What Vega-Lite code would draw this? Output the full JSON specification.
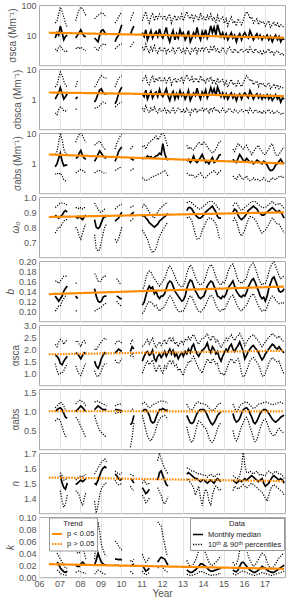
{"$schema":"https://vega.github.io/schema/vega-lite/v6.json","padding":{"left":4,"top":0,"right":0,"bottom":0},"spacing":3,"bounds":"flush",
"datasets":{"tr":[
{"p":"a","t":2006.48,"v":12,"sig":"p < 0.05"},{"p":"a","t":2017.95,"v":8.2,"sig":"p < 0.05"},
{"p":"b","t":2006.48,"v":1.66,"sig":"p < 0.05"},{"p":"b","t":2017.95,"v":1.26,"sig":"p < 0.05"},
{"p":"c","t":2006.48,"v":2.0,"sig":"p < 0.05"},{"p":"c","t":2017.95,"v":1.02,"sig":"p < 0.05"},
{"p":"d","t":2006.48,"v":0.867,"sig":"p < 0.05"},{"p":"d","t":2017.95,"v":0.898,"sig":"p < 0.05"},
{"p":"e","t":2006.48,"v":0.134,"sig":"p < 0.05"},{"p":"e","t":2017.95,"v":0.149,"sig":"p < 0.05"},
{"p":"f","t":2006.48,"v":1.786,"sig":"p > 0.05"},{"p":"f","t":2017.95,"v":1.93,"sig":"p > 0.05"},
{"p":"g","t":2006.48,"v":1.01,"sig":"p > 0.05"},{"p":"g","t":2017.95,"v":1.005,"sig":"p > 0.05"},
{"p":"h","t":2006.48,"v":1.537,"sig":"p > 0.05"},{"p":"h","t":2017.95,"v":1.513,"sig":"p > 0.05"},
{"p":"i","t":2006.48,"v":0.0217,"sig":"p < 0.05"},{"p":"i","t":2017.95,"v":0.0139,"sig":"p < 0.05"}],
"m":[
{"t":2006.79,"s":1,"a":8,"a1":3.5,"a9":25,"b":1.0,"b1":0.35,"b9":2.5,"c":0.8,"c1":0.45,"c9":2,"d":0.88,"d1":0.76,"d9":0.93,"e":0.13,"e1":0.1,"e9":0.16,"f":1.75,"f1":1.4,"f9":2.2,"g":1.0,"g1":0.75,"g9":1.1},
{"t":2006.88,"s":1,"a":12,"a1":3,"a9":30,"b":1.3,"b1":0.3,"b9":3,"c":1.0,"c1":0.5,"c9":2.5,"d":0.87,"d1":0.78,"d9":0.94,"e":0.125,"e1":0.105,"e9":0.16,"f":1.7,"f1":1.1,"f9":2.1,"g":1.05,"g1":0.8,"g9":1.15,"i":0.025,"i1":0.012,"i9":0.04},
{"t":2006.96,"s":1,"a":10,"a1":4,"a9":50,"b":1.6,"b1":0.45,"b9":5,"c":1.5,"c1":0.45,"c9":5,"d":0.86,"d1":0.8,"d9":0.95,"e":0.12,"e1":0.11,"e9":0.155,"f":1.6,"f1":0.95,"f9":2.3,"g":1.08,"g1":0.82,"g9":1.2,"i":0.022,"i1":0.01,"i9":0.035},
{"t":2007.04,"s":1,"a":20,"a1":4.5,"a9":85,"b":2.4,"b1":0.55,"b9":8,"c":2.2,"c1":0.5,"c9":10,"d":0.87,"d1":0.8,"d9":0.96,"e":0.125,"e1":0.11,"e9":0.16,"f":1.4,"f1":1.0,"f9":2.4,"g":1.1,"g1":0.75,"g9":1.25,"h":1.55,"h1":1.45,"h9":1.57,"i":0.015,"i1":0.006,"i9":0.03},
{"t":2007.13,"s":1,"a":12,"a1":3.5,"a9":60,"b":1.5,"b1":0.5,"b9":6,"c":1.2,"c1":0.4,"c9":6,"d":0.88,"d1":0.82,"d9":0.96,"e":0.13,"e1":0.12,"e9":0.165,"f":1.35,"f1":1.0,"f9":2.35,"g":1.05,"g1":0.6,"g9":1.22,"h":1.5,"h1":1.38,"h9":1.55,"i":0.012,"i1":0.005,"i9":0.025},
{"t":2007.21,"s":1,"a":7,"a1":3,"a9":40,"b":1.0,"b1":0.4,"b9":4,"c":0.85,"c1":0.3,"c9":3,"d":0.9,"d1":0.84,"d9":0.96,"e":0.14,"e1":0.125,"e9":0.17,"f":1.5,"f1":1.1,"f9":2.2,"g":0.95,"g1":0.45,"g9":1.15,"h":1.47,"h1":1.34,"h9":1.52,"i":0.009,"i1":0.004,"i9":0.02},
{"t":2007.29,"s":1,"a":9,"a1":2.8,"a9":25,"b":1.2,"b1":0.4,"b9":3,"c":0.9,"c1":0.28,"c9":2.2,"d":0.91,"d1":0.85,"d9":0.95,"e":0.145,"e1":0.13,"e9":0.17,"f":1.6,"f1":1.25,"f9":2.3,"g":0.85,"g1":0.35,"g9":1.05,"h":1.46,"h1":1.36,"h9":1.52,"i":0.008,"i1":0.003,"i9":0.015},
{"t":2007.38,"s":1,"a":10,"a1":3,"a9":18,"b":1.5,"b1":0.45,"b9":2.5,"c":0.9,"c1":0.3,"c9":2,"d":0.9,"d1":0.85,"d9":0.95,"e":0.15,"e1":0.13,"e9":0.17,"f":1.7,"f1":1.4,"f9":2.4,"g":0.82,"g1":0.3,"g9":1.0,"h":1.5,"h1":1.42,"h9":1.54,"i":0.01,"i1":0.004,"i9":0.015},
{"t":2007.79,"s":2,"a":8,"a1":3.5,"a9":30,"b":1.0,"b1":0.45,"b9":2.5,"c":1.5,"c1":0.5,"c9":5,"d":0.87,"d1":0.8,"d9":0.93,"e":0.13,"e1":0.1,"e9":0.155,"f":1.85,"f1":1.3,"f9":2.3,"g":1.0,"g1":0.85,"g9":1.2,"h":1.49,"h1":1.45,"h9":1.52,"i":0.02,"i1":0.008,"i9":0.045},
{"t":2007.88,"s":2,"a":10,"a1":4,"a9":50,"b":1.2,"b1":0.5,"b9":4,"c":1.6,"c1":0.55,"c9":7,"d":0.86,"d1":0.78,"d9":0.93,"e":0.125,"e1":0.102,"e9":0.158,"f":1.8,"f1":1.1,"f9":2.35,"g":1.05,"g1":0.8,"g9":1.25,"h":1.5,"h1":1.44,"h9":1.53,"i":0.018,"i1":0.01,"i9":0.04},
{"t":2007.96,"s":2,"a":12,"a1":3.5,"a9":70,"c":2.2,"c1":0.6,"c9":9,"d":0.87,"d1":0.74,"d9":0.92,"f":1.7,"f1":0.95,"f9":2.2,"g":1.1,"g1":0.7,"g9":1.3,"h":1.51,"h1":1.42,"h9":1.54,"i":0.018,"i1":0.01,"i9":0.04},
{"t":2008.04,"s":2,"a":15,"a1":4,"a9":85,"c":2.7,"c1":0.65,"c9":10,"d":0.86,"d1":0.72,"d9":0.93,"f":1.6,"f1":0.9,"f9":2.1,"g":1.15,"g1":0.6,"g9":1.3,"h":1.52,"h1":1.38,"h9":1.55,"i":0.022,"i1":0.009,"i9":0.045},
{"t":2008.13,"s":2,"a":11,"a1":3.5,"a9":75,"c":1.8,"c1":0.6,"c9":8,"d":0.85,"d1":0.76,"d9":0.92,"f":1.75,"f1":1.1,"f9":2.3,"g":1.1,"g1":0.5,"g9":1.25,"h":1.51,"h1":1.35,"h9":1.54,"i":0.025,"i1":0.008,"i9":0.05},
{"t":2008.21,"s":2,"a":9,"a1":3.2,"a9":55,"c":1.5,"c1":0.55,"c9":6,"d":0.87,"d1":0.8,"d9":0.93,"f":1.85,"f1":1.3,"f9":2.35,"g":1.05,"g1":0.4,"g9":1.22,"h":1.52,"h1":1.4,"h9":1.55,"i":0.022,"i1":0.007,"i9":0.04},
{"t":2008.29,"s":2,"a":9,"a1":3,"a9":45,"c":1.4,"c1":0.5,"c9":5,"d":0.88,"d1":0.82,"d9":0.93,"f":1.8,"f1":1.4,"f9":2.2,"g":1.0,"g1":0.3,"g9":1.15,"h":1.53,"h1":1.44,"h9":1.56,"i":0.02,"i1":0.006,"i9":0.03},
{"t":2008.71,"s":3,"a":8,"a1":4,"a9":35,"b":0.8,"b1":0.5,"b9":2.5,"c":1.2,"c1":0.5,"c9":4,"d":0.85,"d1":0.75,"d9":0.96,"e":0.145,"e1":0.1,"e9":0.175,"f":1.5,"f1":1.1,"f9":2.0,"g":1.05,"g1":0.9,"g9":1.25,"h":1.5,"h1":1.38,"h9":1.56,"i":0.02,"i1":0.005,"i9":0.03},
{"t":2008.79,"s":3,"a":7,"a1":3.5,"a9":40,"b":1.0,"b1":0.5,"b9":3,"c":1.5,"c1":0.55,"c9":4.5,"d":0.8,"d1":0.66,"d9":0.94,"e":0.13,"e1":0.102,"e9":0.17,"f":1.3,"f1":0.9,"f9":1.95,"g":1.1,"g1":0.75,"g9":1.28,"h":1.49,"h1":1.3,"h9":1.58,"i":0.028,"i1":0.008,"i9":0.06},
{"t":2008.88,"s":3,"a":6,"a1":3,"a9":45,"b":1.5,"b1":0.55,"b9":4,"c":2.0,"c1":0.6,"c9":5,"d":0.79,"d1":0.64,"d9":0.92,"e":0.12,"e1":0.105,"e9":0.16,"f":1.2,"f1":0.85,"f9":2.1,"g":1.15,"g1":0.6,"g9":1.28,"h":1.52,"h1":1.35,"h9":1.6,"i":0.04,"i1":0.012,"i9":0.092},
{"t":2008.96,"s":3,"a":10,"a1":4,"a9":50,"b":2.0,"b1":0.6,"b9":5,"c":2.6,"c1":0.6,"c9":5.5,"d":0.8,"d1":0.65,"d9":0.9,"e":0.118,"e1":0.106,"e9":0.158,"f":1.35,"f1":0.95,"f9":2.2,"g":1.12,"g1":0.5,"g9":1.25,"h":1.55,"h1":1.42,"h9":1.62,"i":0.032,"i1":0.01,"i9":0.075},
{"t":2009.04,"s":3,"a":14,"a1":4.5,"a9":55,"b":2.2,"b1":0.7,"b9":6,"c":2.2,"c1":0.55,"c9":4.5,"d":0.83,"d1":0.7,"d9":0.9,"e":0.12,"e1":0.108,"e9":0.162,"f":1.6,"f1":1.1,"f9":2.3,"g":1.08,"g1":0.45,"g9":1.22,"h":1.58,"h1":1.46,"h9":1.64,"i":0.025,"i1":0.008,"i9":0.055},
{"t":2009.13,"s":3,"a":15,"a1":5,"a9":52,"b":1.6,"b1":0.8,"b9":5.5,"c":1.8,"c1":0.5,"c9":3.5,"d":0.86,"d1":0.76,"d9":0.91,"e":0.128,"e1":0.112,"e9":0.168,"f":1.75,"f1":1.3,"f9":2.4,"g":1.05,"g1":0.4,"g9":1.2,"h":1.6,"h1":1.48,"h9":1.65,"i":0.022,"i1":0.006,"i9":0.045},
{"t":2009.21,"s":3,"a":12,"a1":5,"a9":45,"b":1.5,"b1":0.75,"b9":5,"c":1.6,"c1":0.5,"c9":3,"d":0.87,"d1":0.8,"d9":0.92,"e":0.13,"e1":0.115,"e9":0.17,"f":1.85,"f1":1.4,"f9":2.45,"g":1.05,"g1":0.35,"g9":1.18,"h":1.61,"h1":1.5,"h9":1.66,"i":0.02,"i1":0.005,"i9":0.038},
{"t":2009.29,"s":3,"a":10,"a1":4.5,"a9":40,"b":1.5,"b1":0.7,"b9":5,"c":1.5,"c1":0.5,"c9":3,"d":0.87,"d1":0.82,"d9":0.92,"e":0.13,"e1":0.115,"e9":0.168,"f":1.8,"f1":1.4,"f9":2.4,"g":1.05,"g1":0.35,"g9":1.15,"h":1.6,"h1":1.5,"h9":1.64,"i":0.02,"i1":0.005,"i9":0.035},
{"t":2009.71,"s":4,"a":6,"a1":3.5,"a9":25,"b":0.7,"b1":0.55,"b9":2.5,"c":1.2,"c1":0.6,"c9":3,"d":0.84,"d1":0.72,"d9":0.92,"f":1.85,"f1":1.55,"f9":2.2,"g":1.05,"g1":0.95,"g9":1.15,"h":1.56,"h1":1.52,"h9":1.58,"i":0.03,"i1":0.02,"i9":0.06},
{"t":2009.79,"s":4,"a":8,"a1":4,"a9":30,"b":0.9,"b1":0.6,"b9":3.5,"c":1.6,"c1":0.65,"c9":4.5,"d":0.85,"d1":0.7,"d9":0.93,"e":0.13,"e1":0.12,"e9":0.165,"f":1.9,"f1":1.45,"f9":2.3,"g":1.05,"g1":0.97,"g9":1.18,"h":1.55,"h1":1.5,"h9":1.57,"i":0.03,"i1":0.021,"i9":0.057},
{"t":2009.88,"s":4,"a":10,"a1":4.5,"a9":40,"b":1.5,"b1":0.7,"b9":5,"c":2.5,"c1":0.7,"c9":6,"d":0.86,"d1":0.72,"d9":0.94,"e":0.128,"e1":0.115,"e9":0.16,"f":2.0,"f1":1.4,"f9":2.35,"g":1.04,"g1":0.98,"g9":1.2,"h":1.53,"h1":1.49,"h9":1.56,"i":0.029,"i1":0.02,"i9":0.052},
{"t":2009.96,"s":4,"a":15,"a1":5,"a9":50,"b":2.0,"b1":0.75,"b9":5.5,"c":3.0,"c1":0.75,"c9":8,"d":0.88,"d1":0.76,"d9":0.95,"e":0.125,"e1":0.112,"e9":0.155,"f":1.95,"f1":1.5,"f9":2.3,"g":1.03,"g1":0.98,"g9":1.2,"h":1.52,"h1":1.49,"h9":1.56,"i":0.03,"i1":0.019,"i9":0.048},
{"t":2010.04,"s":4,"a":22,"a1":5,"a9":55,"b":2.5,"b1":0.8,"b9":6,"c":3.5,"c1":0.8,"c9":9,"d":0.9,"d1":0.8,"d9":0.95,"e":0.125,"e1":0.11,"e9":0.155,"f":1.9,"f1":1.6,"f9":2.25,"g":1.02,"g1":0.97,"g9":1.18,"h":1.53,"h1":1.5,"h9":1.57,"i":0.028,"i1":0.018,"i9":0.045},
{"t":2010.46,"s":5,"a":10,"a1":4,"a9":30,"c":1.5,"c1":0.6,"c9":3,"d":0.88,"d1":0.84,"d9":0.93,"f":1.9,"f1":1.7,"f9":2.2,"g":0.65,"g1":0.05,"g9":1.0,"h":1.53,"h1":1.48,"h9":1.56,"i":0.018,"i1":0.01,"i9":0.028},
{"t":2010.54,"s":5,"a":15,"a1":5,"a9":45,"c":1.4,"c1":0.65,"c9":3.5,"d":0.89,"d1":0.85,"d9":0.94,"f":2.1,"f1":1.8,"f9":2.4,"g":0.7,"g1":0.3,"g9":1.05,"h":1.52,"h1":1.46,"h9":1.55,"i":0.02,"i1":0.007,"i9":0.025},
{"t":2010.63,"s":5,"a":20,"a1":6,"a9":60,"c":1.3,"c1":0.7,"c9":4,"d":0.9,"d1":0.86,"d9":0.94,"f":2.0,"f1":1.6,"f9":2.3,"g":0.9,"g1":0.7,"g9":1.1,"h":1.5,"h1":1.45,"h9":1.55,"i":0.022,"i1":0.005,"i9":0.03},
{"t":2011.04,"s":6,"a":12,"a1":4,"a9":30,"b":1.5,"b1":0.5,"b9":4,"c":1.4,"c1":0.35,"c9":3.5,"d":0.87,"d1":0.78,"d9":0.93,"e":0.112,"e1":0.095,"e9":0.14,"f":1.5,"f1":1.0,"f9":2.1,"g":1.0,"g1":0.9,"g9":1.2,"h":1.47,"h1":1.42,"h9":1.5,"i":0.02,"i1":0.01,"i9":0.038},
{"t":2011.13,"s":6,"a":9,"a1":3,"a9":45,"b":1.2,"b1":0.4,"b9":5,"c":1.6,"c1":0.3,"c9":4,"d":0.88,"d1":0.76,"d9":0.95,"e":0.118,"e1":0.1,"e9":0.15,"f":1.7,"f1":1.2,"f9":2.2,"g":1.05,"g1":0.7,"g9":1.25,"h":1.45,"h1":1.4,"h9":1.52,"i":0.015,"i1":0.006,"i9":0.03},
{"t":2011.21,"s":6,"a":15,"a1":5,"a9":60,"b":2.0,"b1":0.6,"b9":6,"c":1.5,"c1":0.28,"c9":3,"d":0.86,"d1":0.74,"d9":0.94,"e":0.13,"e1":0.108,"e9":0.165,"f":1.85,"f1":1.4,"f9":2.3,"g":1.05,"g1":0.5,"g9":1.22,"h":1.43,"h1":1.37,"h9":1.5,"i":0.01,"i1":0.004,"i9":0.025},
{"t":2011.29,"s":6,"a":7,"a1":3.5,"a9":35,"b":1.0,"b1":0.45,"b9":3.5,"c":1.8,"c1":0.3,"c9":4,"d":0.85,"d1":0.72,"d9":0.92,"e":0.142,"e1":0.115,"e9":0.175,"f":1.9,"f1":1.5,"f9":2.4,"g":1.0,"g1":0.35,"g9":1.15,"h":1.44,"h1":1.38,"h9":1.49,"i":0.012,"i1":0.005,"i9":0.028},
{"t":2011.38,"s":6,"a":10,"a1":2.5,"a9":25,"b":1.4,"b1":0.35,"b9":3,"c":1.6,"c1":0.32,"c9":5,"d":0.83,"d1":0.68,"d9":0.9,"e":0.15,"e1":0.12,"e9":0.18,"f":1.75,"f1":1.35,"f9":2.2,"g":0.9,"g1":0.25,"g9":1.1,"h":1.46,"h1":1.4,"h9":1.5,"i":0.015,"i1":0.008,"i9":0.032},
{"t":2011.46,"s":6,"a":14,"a1":4,"a9":40,"b":1.8,"b1":0.5,"b9":4.5,"c":1.7,"c1":0.35,"c9":5.5,"d":0.82,"d1":0.65,"d9":0.88,"e":0.145,"e1":0.118,"e9":0.178,"f":1.8,"f1":1.45,"f9":2.35,"g":0.75,"g1":0.22,"g9":1.12},
{"t":2011.54,"s":6,"a":8,"a1":3,"a9":55,"b":1.1,"b1":0.4,"b9":6,"c":1.5,"c1":0.38,"c9":6,"d":0.81,"d1":0.63,"d9":0.87,"e":0.148,"e1":0.115,"e9":0.17,"f":1.95,"f1":1.55,"f9":2.45,"g":0.7,"g1":0.3,"g9":1.18},
{"t":2011.63,"s":6,"a":11,"a1":4.5,"a9":30,"b":1.5,"b1":0.55,"b9":3.5,"c":1.6,"c1":0.4,"c9":7,"d":0.8,"d1":0.64,"d9":0.86,"e":0.135,"e1":0.11,"e9":0.165,"f":1.6,"f1":1.25,"f9":2.2,"g":0.72,"g1":0.4,"g9":1.2},
{"t":2011.71,"s":6,"a":13,"a1":3,"a9":45,"b":1.7,"b1":0.4,"b9":5,"c":1.8,"c1":0.42,"c9":8,"d":0.81,"d1":0.66,"d9":0.88,"e":0.14,"e1":0.112,"e9":0.16,"f":1.5,"f1":1.05,"f9":2.05,"g":0.85,"g1":0.55,"g9":1.22},
{"t":2011.79,"s":6,"a":9,"a1":2.5,"a9":35,"b":1.2,"b1":0.35,"b9":4,"c":1.9,"c1":0.45,"c9":6,"d":0.82,"d1":0.7,"d9":0.9,"e":0.13,"e1":0.105,"e9":0.155,"f":1.7,"f1":1.2,"f9":2.2,"g":0.95,"g1":0.7,"g9":1.25,"h":1.52,"h1":1.47,"h9":1.65,"i":0.025,"i1":0.015,"i9":0.092},
{"t":2011.88,"s":6,"a":16,"a1":4,"a9":50,"b":2.1,"b1":0.5,"b9":5.5,"c":2.2,"c1":0.48,"c9":7,"d":0.84,"d1":0.74,"d9":0.92,"e":0.125,"e1":0.1,"e9":0.15,"f":1.8,"f1":1.35,"f9":2.3,"g":1.05,"g1":0.8,"g9":1.27,"h":1.57,"h1":1.44,"h9":1.7,"i":0.03,"i1":0.018,"i9":0.088},
{"t":2011.96,"s":6,"a":10,"a1":3,"a9":40,"b":1.4,"b1":0.4,"b9":4,"c":2.0,"c1":0.5,"c9":9,"d":0.85,"d1":0.76,"d9":0.93,"e":0.13,"e1":0.105,"e9":0.155,"f":1.65,"f1":1.1,"f9":2.15,"g":1.05,"g1":0.85,"g9":1.28,"h":1.58,"h1":1.42,"h9":1.66,"i":0.033,"i1":0.02,"i9":0.085},
{"t":2012.04,"s":6,"a":8,"a1":3,"a9":35,"b":1.2,"b1":0.4,"b9":4,"c":4.5,"c1":0.55,"c9":10,"d":0.86,"d1":0.78,"d9":0.94,"e":0.13,"e1":0.105,"e9":0.16,"f":1.75,"f1":1.0,"f9":2.25,"g":1.08,"g1":0.88,"g9":1.28,"h":1.55,"h1":1.38,"h9":1.63,"i":0.032,"i1":0.016,"i9":0.07},
{"t":2012.13,"s":6,"a":12,"a1":4,"a9":45,"b":1.6,"b1":0.5,"b9":5,"c":2.2,"c1":0.6,"c9":8,"d":0.87,"d1":0.8,"d9":0.95,"e":0.135,"e1":0.11,"e9":0.165,"f":1.9,"f1":1.3,"f9":2.4,"g":1.05,"g1":0.9,"g9":1.27,"h":1.52,"h1":1.36,"h9":1.6,"i":0.03,"i1":0.012,"i9":0.055},
{"t":2012.21,"s":6,"a":18,"a1":2.5,"a9":30,"b":2.2,"b1":0.35,"b9":3.5,"c":1.5,"c1":0.5,"c9":5,"d":0.88,"d1":0.82,"d9":0.96,"e":0.145,"e1":0.118,"e9":0.175,"f":1.7,"f1":1.2,"f9":2.2,"g":1.02,"g1":0.85,"g9":1.25,"h":1.49,"h1":1.38,"h9":1.58,"i":0.025,"i1":0.01,"i9":0.04},
{"t":2012.29,"s":6,"a":9,"a1":3.5,"a9":40,"b":1.3,"b1":0.45,"b9":4.5,"c":1.3,"c1":0.4,"c9":3.5,"d":0.89,"d1":0.83,"d9":0.96,"e":0.155,"e1":0.125,"e9":0.185,"f":1.85,"f1":1.4,"f9":2.35,"g":1.05,"g1":0.8,"g9":1.22,"h":1.48,"h1":1.41,"h9":1.56,"i":0.02,"i1":0.008,"i9":0.035},
{"t":2012.38,"s":6,"a":6,"a1":2.8,"a9":50,"b":0.9,"b1":0.35,"b9":5.5,"e":0.16,"e1":0.13,"e9":0.19,"f":2.0,"f1":1.55,"f9":2.5},
{"t":2012.46,"s":6,"a":10,"a1":3,"a9":25,"b":1.4,"b1":0.4,"b9":3,"e":0.158,"e1":0.128,"e9":0.185,"f":1.8,"f1":1.4,"f9":2.3},
{"t":2012.54,"s":6,"a":14,"a1":4,"a9":35,"b":1.8,"b1":0.5,"b9":4,"e":0.15,"e1":0.12,"e9":0.178,"f":1.95,"f1":1.5,"f9":2.45},
{"t":2012.63,"s":6,"a":7,"a1":2.5,"a9":45,"b":1.0,"b1":0.35,"b9":5,"e":0.14,"e1":0.112,"e9":0.17,"f":1.7,"f1":1.3,"f9":2.2},
{"t":2012.71,"s":6,"a":11,"a1":3,"a9":30,"b":1.5,"b1":0.4,"b9":3.5,"e":0.135,"e1":0.105,"e9":0.16,"f":1.8,"f1":1.35,"f9":2.3},
{"t":2012.79,"s":6,"a":8,"a1":4,"a9":40,"b":1.1,"b1":0.5,"b9":4.5,"e":0.13,"e1":0.1,"e9":0.155,"f":1.6,"f1":1.1,"f9":2.1},
{"t":2012.88,"s":6,"a":15,"a1":3.5,"a9":35,"b":1.9,"b1":0.45,"b9":4,"e":0.125,"e1":0.098,"e9":0.15,"f":1.75,"f1":1.2,"f9":2.25},
{"t":2012.96,"s":6,"a":10,"a1":2.5,"a9":50,"b":1.3,"b1":0.35,"b9":5.5,"e":0.12,"e1":0.1,"e9":0.148,"f":1.85,"f1":1.0,"f9":2.35},
{"t":2013.04,"s":6,"a":12,"a1":3.5,"a9":30,"b":1.6,"b1":0.45,"b9":3.5,"e":0.122,"e1":0.1,"e9":0.15,"f":1.7,"f1":0.9,"f9":2.2},
{"t":2013.13,"s":6,"a":7,"a1":2.5,"a9":45,"b":1.0,"b1":0.35,"b9":5,"e":0.13,"e1":0.108,"e9":0.16,"f":1.9,"f1":1.2,"f9":2.4},
{"t":2013.21,"s":6,"a":9,"a1":4,"a9":60,"b":1.3,"b1":0.5,"b9":6.5,"c":1.2,"c1":0.5,"c9":4,"d":0.91,"d1":0.86,"d9":0.96,"e":0.145,"e1":0.115,"e9":0.175,"f":1.8,"f1":1.3,"f9":2.35,"g":0.9,"g1":0.6,"g9":1.2,"h":1.56,"h1":1.52,"h9":1.6,"i":0.012,"i1":0.005,"i9":0.028},
{"t":2013.29,"s":6,"a":14,"a1":3,"a9":40,"b":1.9,"b1":0.4,"b9":4.5,"c":1.4,"c1":0.45,"c9":3,"d":0.93,"d1":0.87,"d9":0.97,"e":0.155,"e1":0.125,"e9":0.185,"f":2.0,"f1":1.5,"f9":2.5,"g":0.8,"g1":0.4,"g9":1.1,"h":1.57,"h1":1.53,"h9":1.6,"i":0.01,"i1":0.004,"i9":0.022},
{"t":2013.38,"s":6,"a":6,"a1":2.2,"a9":35,"b":0.9,"b1":0.3,"b9":4,"c":1.1,"c1":0.4,"c9":3.5,"d":0.93,"d1":0.86,"d9":0.97,"e":0.162,"e1":0.13,"e9":0.192,"f":1.85,"f1":1.45,"f9":2.35,"g":0.7,"g1":0.22,"g9":1.05,"h":1.56,"h1":1.5,"h9":1.59,"i":0.008,"i1":0.003,"i9":0.018},
{"t":2013.46,"s":6,"a":8,"a1":3.5,"a9":50,"b":1.2,"b1":0.45,"b9":5.5,"c":1.3,"c1":0.45,"c9":3,"d":0.92,"d1":0.84,"d9":0.96,"e":0.16,"e1":0.128,"e9":0.188,"f":2.1,"f1":1.6,"f9":2.55,"g":0.68,"g1":0.18,"g9":1.05,"h":1.55,"h1":1.49,"h9":1.58,"i":0.008,"i1":0.003,"i9":0.018},
{"t":2013.54,"s":6,"a":12,"a1":3,"a9":30,"b":1.6,"b1":0.4,"b9":3.5,"c":1.8,"c1":0.4,"c9":2.8,"d":0.9,"d1":0.8,"d9":0.95,"e":0.15,"e1":0.12,"e9":0.178,"f":2.2,"f1":1.7,"f9":2.6,"g":0.72,"g1":0.25,"g9":1.1,"h":1.54,"h1":1.47,"h9":1.58,"i":0.01,"i1":0.004,"i9":0.022},
{"t":2013.63,"s":6,"a":9,"a1":4,"a9":45,"b":1.3,"b1":0.5,"b9":5,"c":1.2,"c1":0.35,"c9":3.5,"d":0.88,"d1":0.75,"d9":0.94,"e":0.14,"e1":0.112,"e9":0.168,"f":1.95,"f1":1.5,"f9":2.45,"g":0.85,"g1":0.45,"g9":1.2,"h":1.53,"h1":1.42,"h9":1.57,"i":0.012,"i1":0.005,"i9":0.028},
{"t":2013.71,"s":6,"a":18,"a1":2.5,"a9":40,"b":2.3,"b1":0.35,"b9":4.5,"c":1.1,"c1":0.4,"c9":4,"d":0.87,"d1":0.72,"d9":0.93,"e":0.135,"e1":0.105,"e9":0.16,"f":1.8,"f1":1.35,"f9":2.3,"g":0.95,"g1":0.65,"g9":1.25,"h":1.53,"h1":1.45,"h9":1.57,"i":0.015,"i1":0.006,"i9":0.035},
{"t":2013.79,"s":6,"a":10,"a1":3.5,"a9":30,"b":1.4,"b1":0.45,"b9":3.5,"c":1.3,"c1":0.45,"c9":5,"d":0.86,"d1":0.72,"d9":0.92,"e":0.128,"e1":0.1,"e9":0.155,"f":1.7,"f1":1.2,"f9":2.2,"g":1.02,"g1":0.75,"g9":1.25,"h":1.52,"h1":1.48,"h9":1.56,"i":0.018,"i1":0.008,"i9":0.045},
{"t":2013.88,"s":6,"a":7,"a1":3,"a9":55,"b":1.0,"b1":0.4,"b9":6,"c":1.6,"c1":0.5,"c9":4.5,"d":0.86,"d1":0.74,"d9":0.92,"e":0.125,"e1":0.098,"e9":0.152,"f":1.85,"f1":1.1,"f9":2.35,"g":1.05,"g1":0.72,"g9":1.22,"h":1.51,"h1":1.4,"h9":1.56,"i":0.022,"i1":0.01,"i9":0.05},
{"t":2013.96,"s":6,"a":13,"a1":4,"a9":35,"b":1.7,"b1":0.5,"b9":4,"c":2.0,"c1":0.4,"c9":4,"d":0.87,"d1":0.78,"d9":0.93,"e":0.128,"e1":0.102,"e9":0.155,"f":1.95,"f1":1.0,"f9":2.45,"g":1.05,"g1":0.65,"g9":1.22,"h":1.52,"h1":1.35,"h9":1.56,"i":0.022,"i1":0.009,"i9":0.048},
{"t":2014.04,"s":6,"a":9,"a1":3,"a9":40,"b":1.3,"b1":0.4,"b9":4.5,"c":1.5,"c1":0.35,"c9":5,"d":0.88,"d1":0.8,"d9":0.94,"e":0.13,"e1":0.105,"e9":0.158,"f":2.0,"f1":1.2,"f9":2.45,"g":1.05,"g1":0.6,"g9":1.2,"h":1.52,"h1":1.42,"h9":1.55,"i":0.02,"i1":0.008,"i9":0.045},
{"t":2014.13,"s":6,"a":15,"a1":4,"a9":30,"b":2.0,"b1":0.5,"b9":3.5,"c":1.1,"c1":0.35,"c9":4.5,"d":0.9,"d1":0.83,"d9":0.95,"e":0.14,"e1":0.112,"e9":0.168,"f":2.1,"f1":1.4,"f9":2.55,"g":1.0,"g1":0.55,"g9":1.18,"h":1.51,"h1":1.46,"h9":1.55,"i":0.018,"i1":0.007,"i9":0.04},
{"t":2014.21,"s":6,"a":8,"a1":3.5,"a9":45,"b":1.1,"b1":0.45,"b9":5,"c":1.2,"c1":0.4,"c9":3.5,"d":0.91,"d1":0.85,"d9":0.96,"e":0.15,"e1":0.12,"e9":0.18,"f":2.25,"f1":1.6,"f9":2.65,"g":0.9,"g1":0.45,"g9":1.15,"h":1.5,"h1":1.44,"h9":1.54,"i":0.015,"i1":0.005,"i9":0.032},
{"t":2014.29,"s":6,"a":11,"a1":2.5,"a9":35,"b":1.5,"b1":0.35,"b9":4,"c":1.0,"c1":0.45,"c9":3,"d":0.92,"d1":0.86,"d9":0.97,"e":0.155,"e1":0.128,"e9":0.188,"f":2.0,"f1":1.5,"f9":2.45,"g":0.8,"g1":0.3,"g9":1.1,"h":1.51,"h1":1.38,"h9":1.55,"i":0.012,"i1":0.004,"i9":0.025},
{"t":2014.38,"s":6,"a":20,"a1":4,"a9":50,"b":2.4,"b1":0.5,"b9":5.5,"c":1.3,"c1":0.5,"c9":2.5,"d":0.93,"d1":0.86,"d9":0.97,"e":0.16,"e1":0.132,"e9":0.193,"f":1.85,"f1":1.4,"f9":2.35,"g":0.7,"g1":0.2,"g9":1.05,"h":1.52,"h1":1.35,"h9":1.56,"i":0.01,"i1":0.003,"i9":0.02},
{"t":2014.46,"s":6,"a":12,"a1":3,"a9":30,"b":1.6,"b1":0.4,"b9":3.5,"c":1.6,"c1":0.55,"c9":2.2,"d":0.94,"d1":0.85,"d9":0.97,"e":0.158,"e1":0.13,"e9":0.19,"f":2.1,"f1":1.6,"f9":2.55,"g":0.65,"g1":0.18,"g9":1.02,"h":1.51,"h1":1.42,"h9":1.55,"i":0.01,"i1":0.003,"i9":0.02},
{"t":2014.54,"s":6,"a":18,"a1":4.5,"a9":40,"b":2.2,"b1":0.55,"b9":4.5,"c":1.1,"c1":0.6,"c9":2.5,"d":0.92,"d1":0.84,"d9":0.96,"e":0.15,"e1":0.122,"e9":0.18,"f":2.0,"f1":1.55,"f9":2.5,"g":0.7,"g1":0.25,"g9":1.05,"h":1.5,"h1":1.46,"h9":1.54,"i":0.011,"i1":0.004,"i9":0.022},
{"t":2014.63,"s":6,"a":10,"a1":3,"a9":25,"b":1.3,"b1":0.4,"b9":3,"c":1.2,"c1":0.5,"c9":3,"d":0.9,"d1":0.82,"d9":0.95,"e":0.14,"e1":0.112,"e9":0.168,"f":1.8,"f1":1.35,"f9":2.3,"g":0.8,"g1":0.4,"g9":1.1,"h":1.52,"h1":1.48,"h9":1.55,"i":0.012,"i1":0.004,"i9":0.025},
{"t":2014.71,"s":6,"a":22,"a1":3.5,"a9":45,"b":2.5,"b1":0.45,"b9":5,"c":1.5,"c1":0.45,"c9":4,"d":0.87,"d1":0.78,"d9":0.93,"e":0.13,"e1":0.105,"e9":0.16,"f":1.9,"f1":1.4,"f9":2.4,"g":0.9,"g1":0.55,"g9":1.18,"h":1.53,"h1":1.47,"h9":1.56,"i":0.013,"i1":0.005,"i9":0.028},
{"t":2014.79,"s":6,"a":14,"a1":2.5,"a9":30,"b":1.8,"b1":0.35,"b9":3.5,"c":1.9,"c1":0.55,"c9":5,"d":0.86,"d1":0.73,"d9":0.92,"e":0.128,"e1":0.1,"e9":0.155,"f":1.65,"f1":1.1,"f9":2.2,"g":0.95,"g1":0.65,"g9":1.22,"h":1.52,"h1":1.45,"h9":1.56,"i":0.014,"i1":0.006,"i9":0.032},
{"t":2014.88,"s":6,"a":9,"a1":3,"a9":35,"b":1.2,"b1":0.4,"b9":4,"c":2.0,"c1":0.6,"c9":5.5,"d":0.86,"d1":0.72,"d9":0.92,"e":0.125,"e1":0.1,"e9":0.152,"f":1.5,"f1":0.95,"f9":2.05,"g":1.0,"g1":0.7,"g9":1.22,"h":1.51,"h1":1.46,"h9":1.55,"i":0.015,"i1":0.006,"i9":0.035},
{"t":2014.96,"s":6,"a":12,"a1":4,"a9":40,"b":1.6,"b1":0.5,"b9":4.5,"e":0.13,"e1":0.105,"e9":0.158,"f":1.7,"f1":1.0,"f9":2.2},
{"t":2015.04,"s":6,"a":8,"a1":3,"a9":25,"b":1.1,"b1":0.4,"b9":3,"e":0.128,"e1":0.102,"e9":0.155,"f":1.85,"f1":0.9,"f9":2.3},
{"t":2015.13,"s":6,"a":11,"a1":2.5,"a9":35,"b":1.5,"b1":0.35,"b9":4,"e":0.135,"e1":0.11,"e9":0.165,"f":2.0,"f1":1.1,"f9":2.45},
{"t":2015.21,"s":6,"a":7,"a1":3.5,"a9":20,"b":1.0,"b1":0.45,"b9":2.5,"e":0.145,"e1":0.118,"e9":0.178,"f":1.9,"f1":1.3,"f9":2.35},
{"t":2015.29,"s":6,"a":9,"a1":4,"a9":30,"b":1.3,"b1":0.5,"b9":3.5,"e":0.15,"e1":0.125,"e9":0.186,"f":2.1,"f1":1.5,"f9":2.5},
{"t":2015.38,"s":6,"a":12,"a1":3,"a9":40,"b":1.6,"b1":0.4,"b9":4.5,"e":0.155,"e1":0.13,"e9":0.192,"f":2.2,"f1":1.6,"f9":2.6},
{"t":2015.46,"s":6,"a":8,"a1":2.5,"a9":25,"b":1.1,"b1":0.35,"b9":3,"c":1.4,"c1":0.4,"c9":3,"d":0.9,"d1":0.84,"d9":0.94,"e":0.16,"e1":0.132,"e9":0.194,"f":2.0,"f1":1.5,"f9":2.45,"g":0.95,"g1":0.5,"g9":1.2,"h":1.52,"h1":1.45,"h9":1.55,"i":0.012,"i1":0.006,"i9":0.025},
{"t":2015.54,"s":6,"a":10,"a1":3.5,"a9":30,"b":1.4,"b1":0.45,"b9":3.5,"c":1.2,"c1":0.35,"c9":2.5,"d":0.92,"d1":0.86,"d9":0.96,"e":0.15,"e1":0.125,"e9":0.185,"f":1.9,"f1":1.4,"f9":2.35,"g":0.8,"g1":0.3,"g9":1.1,"h":1.51,"h1":1.48,"h9":1.54,"i":0.01,"i1":0.004,"i9":0.02},
{"t":2015.63,"s":6,"a":6,"a1":3,"a9":20,"b":0.9,"b1":0.4,"b9":2.5,"c":1.1,"c1":0.3,"c9":3.5,"d":0.91,"d1":0.84,"d9":0.96,"e":0.14,"e1":0.115,"e9":0.172,"f":2.05,"f1":1.55,"f9":2.5,"g":0.72,"g1":0.22,"g9":1.0,"h":1.5,"h1":1.47,"h9":1.53,"i":0.009,"i1":0.004,"i9":0.022},
{"t":2015.71,"s":6,"a":9,"a1":2.5,"a9":35,"b":1.3,"b1":0.35,"b9":4,"c":1.5,"c1":0.4,"c9":4.5,"d":0.88,"d1":0.8,"d9":0.94,"e":0.135,"e1":0.108,"e9":0.162,"f":2.15,"f1":1.6,"f9":2.55,"g":0.75,"g1":0.3,"g9":1.05,"h":1.51,"h1":1.46,"h9":1.53,"i":0.012,"i1":0.006,"i9":0.03},
{"t":2015.79,"s":6,"a":11,"a1":3,"a9":28,"b":1.5,"b1":0.4,"b9":3.2,"c":2.0,"c1":0.45,"c9":4,"d":0.86,"d1":0.76,"d9":0.92,"e":0.13,"e1":0.103,"e9":0.158,"f":2.3,"f1":1.4,"f9":2.65,"g":0.82,"g1":0.45,"g9":1.15,"h":1.52,"h1":1.47,"h9":1.55,"i":0.018,"i1":0.008,"i9":0.045},
{"t":2015.88,"s":6,"a":7,"a1":3.5,"a9":22,"b":1.0,"b1":0.45,"b9":2.6,"c":1.6,"c1":0.35,"c9":3.5,"d":0.85,"d1":0.74,"d9":0.91,"e":0.128,"e1":0.1,"e9":0.155,"f":2.1,"f1":1.0,"f9":2.5,"g":0.95,"g1":0.6,"g9":1.2,"h":1.51,"h1":1.48,"h9":1.6,"i":0.024,"i1":0.01,"i9":0.055},
{"t":2015.96,"s":6,"a":10,"a1":2.8,"a9":30,"b":1.4,"b1":0.38,"b9":3.5,"c":1.3,"c1":0.3,"c9":3,"d":0.86,"d1":0.76,"d9":0.92,"e":0.132,"e1":0.105,"e9":0.16,"f":1.9,"f1":0.85,"f9":2.35,"g":1.05,"g1":0.7,"g9":1.22,"h":1.52,"h1":1.49,"h9":1.72,"i":0.025,"i1":0.01,"i9":0.06},
{"t":2016.04,"s":6,"a":12,"a1":3,"a9":45,"b":1.6,"b1":0.4,"b9":4.5,"c":1.2,"c1":0.35,"c9":3.5,"d":0.87,"d1":0.78,"d9":0.93,"e":0.13,"e1":0.108,"e9":0.16,"f":1.6,"f1":0.9,"f9":2.15,"g":1.08,"g1":0.8,"g9":1.25,"h":1.53,"h1":1.48,"h9":1.62,"i":0.022,"i1":0.009,"i9":0.055},
{"t":2016.13,"s":6,"a":9,"a1":3.5,"a9":60,"b":1.3,"b1":0.45,"b9":6,"c":1.5,"c1":0.4,"c9":4,"d":0.89,"d1":0.82,"d9":0.94,"e":0.138,"e1":0.112,"e9":0.168,"f":1.75,"f1":1.1,"f9":2.3,"g":1.1,"g1":0.85,"g9":1.25,"h":1.52,"h1":1.47,"h9":1.57,"i":0.018,"i1":0.008,"i9":0.045},
{"t":2016.21,"s":6,"a":8,"a1":2.5,"a9":50,"b":1.1,"b1":0.35,"b9":5,"c":1.3,"c1":0.3,"c9":3,"d":0.91,"d1":0.85,"d9":0.95,"e":0.148,"e1":0.12,"e9":0.18,"f":1.9,"f1":1.3,"f9":2.4,"g":1.05,"g1":0.75,"g9":1.22,"h":1.53,"h1":1.48,"h9":1.57,"i":0.015,"i1":0.006,"i9":0.035},
{"t":2016.29,"s":6,"a":14,"a1":4,"a9":35,"b":1.9,"b1":0.5,"b9":4,"c":1.1,"c1":0.28,"c9":2.5,"d":0.92,"d1":0.87,"d9":0.96,"e":0.155,"e1":0.128,"e9":0.188,"f":2.0,"f1":1.5,"f9":2.5,"g":0.95,"g1":0.6,"g9":1.18,"h":1.54,"h1":1.49,"h9":1.58,"i":0.012,"i1":0.005,"i9":0.028},
{"t":2016.38,"s":6,"a":10,"a1":3,"a9":40,"b":1.4,"b1":0.4,"b9":4.5,"c":1.2,"c1":0.3,"c9":2,"d":0.93,"d1":0.87,"d9":0.97,"e":0.162,"e1":0.132,"e9":0.194,"f":2.1,"f1":1.6,"f9":2.55,"g":0.85,"g1":0.45,"g9":1.12,"h":1.55,"h1":1.5,"h9":1.57,"i":0.01,"i1":0.004,"i9":0.022},
{"t":2016.46,"s":6,"a":7,"a1":2.5,"a9":25,"b":1.0,"b1":0.35,"b9":3,"c":1.0,"c1":0.35,"c9":2.5,"d":0.94,"d1":0.86,"d9":0.97,"e":0.165,"e1":0.135,"e9":0.196,"f":2.15,"f1":1.65,"f9":2.6,"g":0.72,"g1":0.3,"g9":1.08,"h":1.54,"h1":1.49,"h9":1.56,"i":0.008,"i1":0.003,"i9":0.018},
{"t":2016.54,"s":6,"a":9,"a1":3.5,"a9":30,"b":1.3,"b1":0.45,"b9":3.5,"c":1.1,"c1":0.3,"c9":3,"d":0.93,"d1":0.85,"d9":0.97,"e":0.158,"e1":0.128,"e9":0.188,"f":2.05,"f1":1.55,"f9":2.5,"g":0.68,"g1":0.2,"g9":1.1,"h":1.53,"h1":1.48,"h9":1.57,"i":0.008,"i1":0.003,"i9":0.02},
{"t":2016.63,"s":6,"a":11,"a1":3,"a9":35,"b":1.5,"b1":0.4,"b9":4,"c":1.3,"c1":0.32,"c9":3.5,"d":0.92,"d1":0.83,"d9":0.96,"e":0.148,"e1":0.118,"e9":0.176,"f":1.95,"f1":1.45,"f9":2.4,"g":0.75,"g1":0.25,"g9":1.15,"h":1.52,"h1":1.47,"h9":1.58,"i":0.01,"i1":0.004,"i9":0.025},
{"t":2016.71,"s":6,"a":8,"a1":2.5,"a9":22,"b":1.1,"b1":0.35,"b9":2.6,"c":1.2,"c1":0.3,"c9":4,"d":0.9,"d1":0.8,"d9":0.95,"e":0.14,"e1":0.11,"e9":0.165,"f":1.85,"f1":1.35,"f9":2.35,"g":0.85,"g1":0.4,"g9":1.2,"h":1.51,"h1":1.46,"h9":1.56,"i":0.012,"i1":0.005,"i9":0.03},
{"t":2016.79,"s":6,"a":10,"a1":3,"a9":30,"b":1.4,"b1":0.4,"b9":3.5,"c":1.1,"c1":0.28,"c9":3,"d":0.89,"d1":0.78,"d9":0.94,"e":0.13,"e1":0.105,"e9":0.158,"f":1.7,"f1":1.15,"f9":2.2,"g":0.95,"g1":0.55,"g9":1.2,"h":1.52,"h1":1.45,"h9":1.55,"i":0.015,"i1":0.006,"i9":0.035},
{"t":2016.88,"s":6,"a":7,"a1":2.2,"a9":25,"b":1.0,"b1":0.32,"b9":3,"c":1.0,"c1":0.3,"c9":2.5,"d":0.88,"d1":0.76,"d9":0.93,"e":0.125,"e1":0.1,"e9":0.152,"f":1.55,"f1":0.9,"f9":2.1,"g":1.02,"g1":0.7,"g9":1.22,"h":1.53,"h1":1.44,"h9":1.56,"i":0.018,"i1":0.008,"i9":0.04},
{"t":2016.96,"s":6,"a":9,"a1":3,"a9":28,"b":1.3,"b1":0.4,"b9":3.2,"c":1.2,"c1":0.35,"c9":2,"d":0.88,"d1":0.77,"d9":0.93,"e":0.128,"e1":0.102,"e9":0.155,"f":1.65,"f1":0.85,"f9":2.2,"g":1.05,"g1":0.78,"g9":1.24,"h":1.5,"h1":1.42,"h9":1.55,"i":0.016,"i1":0.007,"i9":0.038},
{"t":2017.04,"s":6,"a":8,"a1":2.5,"a9":20,"b":1.1,"b1":0.35,"b9":2.5,"c":1.1,"c1":0.3,"c9":2,"d":0.89,"d1":0.78,"d9":0.93,"e":0.12,"e1":0.1,"e9":0.155,"f":1.8,"f1":1.0,"f9":2.3,"g":1.05,"g1":0.8,"g9":1.25,"h":1.48,"h1":1.4,"h9":1.55,"i":0.015,"i1":0.006,"i9":0.035},
{"t":2017.13,"s":6,"a":10,"a1":3,"a9":25,"b":1.4,"b1":0.4,"b9":3,"c":0.9,"c1":0.28,"c9":2.5,"d":0.9,"d1":0.8,"d9":0.94,"e":0.13,"e1":0.108,"e9":0.165,"f":1.9,"f1":1.2,"f9":2.4,"g":1.02,"g1":0.7,"g9":1.25,"h":1.49,"h1":1.38,"h9":1.57,"i":0.012,"i1":0.005,"i9":0.025},
{"t":2017.21,"s":6,"a":7,"a1":3.5,"a9":30,"b":1.0,"b1":0.45,"b9":3.5,"c":0.7,"c1":0.25,"c9":3,"d":0.91,"d1":0.82,"d9":0.95,"e":0.145,"e1":0.118,"e9":0.178,"f":2.0,"f1":1.4,"f9":2.5,"g":0.95,"g1":0.55,"g9":1.22,"h":1.5,"h1":1.42,"h9":1.58,"i":0.01,"i1":0.004,"i9":0.018},
{"t":2017.29,"s":6,"a":9,"a1":2.5,"a9":18,"b":1.3,"b1":0.35,"b9":2.2,"c":0.6,"c1":0.3,"c9":4,"d":0.92,"d1":0.84,"d9":0.96,"e":0.155,"e1":0.125,"e9":0.188,"f":2.1,"f1":1.55,"f9":2.55,"g":0.88,"g1":0.45,"g9":1.2,"h":1.52,"h1":1.46,"h9":1.57,"i":0.009,"i1":0.003,"i9":0.015},
{"t":2017.38,"s":6,"a":6,"a1":3,"a9":22,"b":0.9,"b1":0.4,"b9":2.6,"c":0.62,"c1":0.35,"c9":4.5,"d":0.93,"d1":0.86,"d9":0.97,"e":0.165,"e1":0.13,"e9":0.195,"f":2.2,"f1":1.65,"f9":2.65,"g":0.8,"g1":0.38,"g9":1.2,"h":1.54,"h1":1.48,"h9":1.56,"i":0.008,"i1":0.003,"i9":0.015},
{"t":2017.46,"s":6,"a":8,"a1":2.2,"a9":28,"b":1.1,"b1":0.32,"b9":3.2,"c":0.7,"c1":0.32,"c9":3,"d":0.92,"d1":0.85,"d9":0.96,"e":0.168,"e1":0.128,"e9":0.198,"f":2.15,"f1":1.6,"f9":2.6,"g":0.75,"g1":0.35,"g9":1.18,"h":1.55,"h1":1.49,"h9":1.57,"i":0.008,"i1":0.004,"i9":0.018},
{"t":2017.54,"s":6,"a":10,"a1":2.8,"a9":20,"b":1.4,"b1":0.38,"b9":2.4,"c":0.9,"c1":0.3,"c9":2,"d":0.91,"d1":0.83,"d9":0.95,"e":0.16,"e1":0.122,"e9":0.19,"f":2.05,"f1":1.5,"f9":2.5,"g":0.72,"g1":0.4,"g9":1.2,"h":1.54,"h1":1.48,"h9":1.58,"i":0.01,"i1":0.005,"i9":0.022},
{"t":2017.63,"s":6,"a":7,"a1":3,"a9":25,"b":1.0,"b1":0.4,"b9":3,"c":1.0,"c1":0.35,"c9":1.8,"d":0.9,"d1":0.82,"d9":0.95,"e":0.15,"e1":0.118,"e9":0.18,"f":2.0,"f1":1.45,"f9":2.45,"g":0.76,"g1":0.5,"g9":1.22,"h":1.53,"h1":1.47,"h9":1.57,"i":0.012,"i1":0.006,"i9":0.028},
{"t":2017.71,"s":6,"a":9,"a1":2.5,"a9":18,"b":1.2,"b1":0.35,"b9":2.2,"c":1.2,"c1":0.38,"c9":2,"d":0.91,"d1":0.82,"d9":0.96,"e":0.14,"e1":0.115,"e9":0.17,"f":2.1,"f1":1.5,"f9":2.55,"g":0.8,"g1":0.55,"g9":1.25,"h":1.52,"h1":1.46,"h9":1.56,"i":0.014,"i1":0.007,"i9":0.032},
{"t":2017.79,"s":6,"a":6,"a1":2.2,"a9":22,"b":0.8,"b1":0.32,"b9":2.6,"c":1.4,"c1":0.4,"c9":2.5,"d":0.9,"d1":0.8,"d9":0.95,"e":0.138,"e1":0.115,"e9":0.165,"f":2.0,"f1":1.3,"f9":2.45,"g":0.85,"g1":0.5,"g9":1.25,"h":1.53,"h1":1.45,"h9":1.56,"i":0.016,"i1":0.008,"i9":0.035},
{"t":2017.88,"s":6,"a":8,"a1":2.5,"a9":20,"b":1.1,"b1":0.35,"b9":2.4,"c":1.1,"c1":0.35,"c9":3,"d":0.88,"d1":0.78,"d9":0.94,"e":0.14,"e1":0.118,"e9":0.168,"f":1.9,"f1":1.1,"f9":2.35,"g":0.88,"g1":0.45,"g9":1.22,"h":1.52,"h1":1.44,"h9":1.55,"i":0.018,"i1":0.009,"i9":0.038},
{"t":2017.96,"s":6,"a":7,"a1":2,"a9":18,"b":1.0,"b1":0.3,"b9":2.2,"c":1.0,"c1":0.38,"c9":3.5,"d":0.86,"d1":0.76,"d9":0.92,"e":0.145,"e1":0.115,"e9":0.17,"f":1.85,"f1":0.95,"f9":2.3,"g":0.9,"g1":0.45,"g9":1.25,"h":1.5,"h1":1.42,"h9":1.53,"i":0.02,"i1":0.01,"i9":0.04}
]},
"vconcat":[
{"width":246,"height":60.2,"encoding":{"x":{"field":"t","type":"quantitative","scale":{"domain":[2006,2018],"nice":false,"zero":false},"axis":{"values":[2007,2008,2009,2010,2011,2012,2013,2014,2015,2016,2017],"labels":false,"ticks":false,"domain":false,"title":null,"grid":true}},"y":{"field":"v","type":"quantitative","scale":{"type":"log","domain":[1,100],"nice":false},"axis":{"title":"σsca (Mm⁻¹)","values":[10,100],"format":"~g"}}},
"layer":[
{"data":{"name":"m"},"transform":[{"fold":["a1","a9"],"as":["key","v"]}],"mark":{"type":"line","color":"black","strokeWidth":1.2,"strokeDash":[1.2,1.4],"clip":true,"invalid":"break-paths-filter-domains"},"encoding":{"detail":[{"field":"key","type":"nominal"},{"field":"s","type":"nominal"}]}},
{"data":{"name":"m"},"transform":[{"fold":["a"],"as":["key","v"]}],"mark":{"type":"line","color":"black","strokeWidth":1.7,"clip":true,"invalid":"break-paths-filter-domains"},"encoding":{"detail":{"field":"s","type":"nominal"}}},
{"data":{"name":"tr"},"transform":[{"filter":"datum.p=='a'"}],"mark":{"type":"line","color":"#ff8c00","strokeWidth":2.2,"clip":true},"encoding":{"strokeDash":{"field":"sig","type":"nominal","scale":{"domain":["p < 0.05","p > 0.05"],"range":[[1,0],[1.6,1.2]]},"legend":null}}},
{"data":{"values":[{}]},"mark":{"type":"text","align":"left","baseline":"middle","fontSize":9,"color":"#333"},"encoding":{"x":{"datum":2006.2},"y":{"datum":54},"text":{"value":"(a)"}}}]},
{"width":246,"height":60.2,"encoding":{"x":{"field":"t","type":"quantitative","scale":{"domain":[2006,2018],"nice":false,"zero":false},"axis":{"values":[2007,2008,2009,2010,2011,2012,2013,2014,2015,2016,2017],"labels":false,"ticks":false,"domain":false,"title":null,"grid":true}},"y":{"field":"v","type":"quantitative","scale":{"type":"log","domain":[0.1,10],"nice":false},"axis":{"title":"σbsca (Mm⁻¹)","values":[1,10],"format":"~g"}}},
"layer":[
{"data":{"name":"m"},"transform":[{"fold":["b1","b9"],"as":["key","v"]}],"mark":{"type":"line","color":"black","strokeWidth":1.2,"strokeDash":[1.2,1.4],"clip":true,"invalid":"break-paths-filter-domains"},"encoding":{"detail":[{"field":"key","type":"nominal"},{"field":"s","type":"nominal"}]}},
{"data":{"name":"m"},"transform":[{"fold":["b"],"as":["key","v"]}],"mark":{"type":"line","color":"black","strokeWidth":1.7,"clip":true,"invalid":"break-paths-filter-domains"},"encoding":{"detail":{"field":"s","type":"nominal"}}},
{"data":{"name":"tr"},"transform":[{"filter":"datum.p=='b'"}],"mark":{"type":"line","color":"#ff8c00","strokeWidth":2.2,"clip":true},"encoding":{"strokeDash":{"field":"sig","type":"nominal","scale":{"domain":["p < 0.05","p > 0.05"],"range":[[1,0],[1.6,1.2]]},"legend":null}}},
{"data":{"values":[{}]},"mark":{"type":"text","align":"left","baseline":"middle","fontSize":9,"color":"#333"},"encoding":{"x":{"datum":2006.2},"y":{"datum":5.4},"text":{"value":"(b)"}}}]},
{"width":246,"height":60.2,"encoding":{"x":{"field":"t","type":"quantitative","scale":{"domain":[2006,2018],"nice":false,"zero":false},"axis":{"values":[2007,2008,2009,2010,2011,2012,2013,2014,2015,2016,2017],"labels":false,"ticks":false,"domain":false,"title":null,"grid":true}},"y":{"field":"v","type":"quantitative","scale":{"type":"log","domain":[0.11,10],"nice":false},"axis":{"title":"σabs (Mm⁻¹)","values":[1,10],"format":"~g"}}},
"layer":[
{"data":{"name":"m"},"transform":[{"fold":["c1","c9"],"as":["key","v"]}],"mark":{"type":"line","color":"black","strokeWidth":1.2,"strokeDash":[1.2,1.4],"clip":true,"invalid":"break-paths-filter-domains"},"encoding":{"detail":[{"field":"key","type":"nominal"},{"field":"s","type":"nominal"}]}},
{"data":{"name":"m"},"transform":[{"fold":["c"],"as":["key","v"]}],"mark":{"type":"line","color":"black","strokeWidth":1.7,"clip":true,"invalid":"break-paths-filter-domains"},"encoding":{"detail":{"field":"s","type":"nominal"}}},
{"data":{"name":"tr"},"transform":[{"filter":"datum.p=='c'"}],"mark":{"type":"line","color":"#ff8c00","strokeWidth":2.2,"clip":true},"encoding":{"strokeDash":{"field":"sig","type":"nominal","scale":{"domain":["p < 0.05","p > 0.05"],"range":[[1,0],[1.6,1.2]]},"legend":null}}},
{"data":{"values":[{}]},"mark":{"type":"text","align":"left","baseline":"middle","fontSize":9,"color":"#333"},"encoding":{"x":{"datum":2006.2},"y":{"datum":5.4},"text":{"value":"(c)"}}}]},
{"width":246,"height":60.2,"encoding":{"x":{"field":"t","type":"quantitative","scale":{"domain":[2006,2018],"nice":false,"zero":false},"axis":{"values":[2007,2008,2009,2010,2011,2012,2013,2014,2015,2016,2017],"labels":false,"ticks":false,"domain":false,"title":null,"grid":true}},"y":{"field":"v","type":"quantitative","scale":{"domain":[0.6,1.0],"nice":false,"zero":false},"axis":{"title":"ω₀","titleFontStyle":"italic","values":[0.7,0.8,0.9,1.0],"format":".1f"}}},
"layer":[
{"data":{"name":"m"},"transform":[{"fold":["d1","d9"],"as":["key","v"]}],"mark":{"type":"line","color":"black","strokeWidth":1.2,"strokeDash":[1.2,1.4],"clip":true,"invalid":"break-paths-filter-domains"},"encoding":{"detail":[{"field":"key","type":"nominal"},{"field":"s","type":"nominal"}]}},
{"data":{"name":"m"},"transform":[{"fold":["d"],"as":["key","v"]}],"mark":{"type":"line","color":"black","strokeWidth":1.7,"clip":true,"invalid":"break-paths-filter-domains"},"encoding":{"detail":{"field":"s","type":"nominal"}}},
{"data":{"name":"tr"},"transform":[{"filter":"datum.p=='d'"}],"mark":{"type":"line","color":"#ff8c00","strokeWidth":2.2,"clip":true},"encoding":{"strokeDash":{"field":"sig","type":"nominal","scale":{"domain":["p < 0.05","p > 0.05"],"range":[[1,0],[1.6,1.2]]},"legend":null}}},
{"data":{"values":[{}]},"mark":{"type":"text","align":"left","baseline":"middle","fontSize":9,"color":"#333"},"encoding":{"x":{"datum":2006.2},"y":{"datum":0.947},"text":{"value":"(d)"}}}]},
{"width":246,"height":60.2,"encoding":{"x":{"field":"t","type":"quantitative","scale":{"domain":[2006,2018],"nice":false,"zero":false},"axis":{"values":[2007,2008,2009,2010,2011,2012,2013,2014,2015,2016,2017],"labels":false,"ticks":false,"domain":false,"title":null,"grid":true}},"y":{"field":"v","type":"quantitative","scale":{"domain":[0.08,0.2],"nice":false,"zero":false},"axis":{"title":"b","titleFontStyle":"italic","values":[0.1,0.12,0.14,0.16,0.18,0.2],"format":".2f"}}},
"layer":[
{"data":{"name":"m"},"transform":[{"fold":["e1","e9"],"as":["key","v"]}],"mark":{"type":"line","color":"black","strokeWidth":1.2,"strokeDash":[1.2,1.4],"clip":true,"invalid":"break-paths-filter-domains"},"encoding":{"detail":[{"field":"key","type":"nominal"},{"field":"s","type":"nominal"}]}},
{"data":{"name":"m"},"transform":[{"fold":["e"],"as":["key","v"]}],"mark":{"type":"line","color":"black","strokeWidth":1.7,"clip":true,"invalid":"break-paths-filter-domains"},"encoding":{"detail":{"field":"s","type":"nominal"}}},
{"data":{"name":"tr"},"transform":[{"filter":"datum.p=='e'"}],"mark":{"type":"line","color":"#ff8c00","strokeWidth":2.2,"clip":true},"encoding":{"strokeDash":{"field":"sig","type":"nominal","scale":{"domain":["p < 0.05","p > 0.05"],"range":[[1,0],[1.6,1.2]]},"legend":null}}},
{"data":{"values":[{}]},"mark":{"type":"text","align":"left","baseline":"middle","fontSize":9,"color":"#333"},"encoding":{"x":{"datum":2006.2},"y":{"datum":0.184},"text":{"value":"(e)"}}}]},
{"width":246,"height":60.2,"encoding":{"x":{"field":"t","type":"quantitative","scale":{"domain":[2006,2018],"nice":false,"zero":false},"axis":{"values":[2007,2008,2009,2010,2011,2012,2013,2014,2015,2016,2017],"labels":false,"ticks":false,"domain":false,"title":null,"grid":true}},"y":{"field":"v","type":"quantitative","scale":{"domain":[0.5,3.0],"nice":false,"zero":false},"axis":{"title":"αsca","values":[1.0,1.5,2.0,2.5,3.0],"format":".1f"}}},
"layer":[
{"data":{"name":"m"},"transform":[{"fold":["f1","f9"],"as":["key","v"]}],"mark":{"type":"line","color":"black","strokeWidth":1.2,"strokeDash":[1.2,1.4],"clip":true,"invalid":"break-paths-filter-domains"},"encoding":{"detail":[{"field":"key","type":"nominal"},{"field":"s","type":"nominal"}]}},
{"data":{"name":"m"},"transform":[{"fold":["f"],"as":["key","v"]}],"mark":{"type":"line","color":"black","strokeWidth":1.7,"clip":true,"invalid":"break-paths-filter-domains"},"encoding":{"detail":{"field":"s","type":"nominal"}}},
{"data":{"name":"tr"},"transform":[{"filter":"datum.p=='f'"}],"mark":{"type":"line","color":"#ff8c00","strokeWidth":2.2,"clip":true},"encoding":{"strokeDash":{"field":"sig","type":"nominal","scale":{"domain":["p < 0.05","p > 0.05"],"range":[[1,0],[1.6,1.2]]},"legend":null}}},
{"data":{"values":[{}]},"mark":{"type":"text","align":"left","baseline":"middle","fontSize":9,"color":"#333"},"encoding":{"x":{"datum":2006.2},"y":{"datum":2.67},"text":{"value":"(f)"}}}]},
{"width":246,"height":60.2,"encoding":{"x":{"field":"t","type":"quantitative","scale":{"domain":[2006,2018],"nice":false,"zero":false},"axis":{"values":[2007,2008,2009,2010,2011,2012,2013,2014,2015,2016,2017],"labels":false,"ticks":false,"domain":false,"title":null,"grid":true}},"y":{"field":"v","type":"quantitative","scale":{"domain":[0,1.6],"nice":false,"zero":false},"axis":{"title":"αabs","values":[0.5,1.0,1.5],"format":".1f"}}},
"layer":[
{"data":{"name":"m"},"transform":[{"fold":["g1","g9"],"as":["key","v"]}],"mark":{"type":"line","color":"black","strokeWidth":1.2,"strokeDash":[1.2,1.4],"clip":true,"invalid":"break-paths-filter-domains"},"encoding":{"detail":[{"field":"key","type":"nominal"},{"field":"s","type":"nominal"}]}},
{"data":{"name":"m"},"transform":[{"fold":["g"],"as":["key","v"]}],"mark":{"type":"line","color":"black","strokeWidth":1.7,"clip":true,"invalid":"break-paths-filter-domains"},"encoding":{"detail":{"field":"s","type":"nominal"}}},
{"data":{"name":"tr"},"transform":[{"filter":"datum.p=='g'"}],"mark":{"type":"line","color":"#ff8c00","strokeWidth":2.2,"clip":true},"encoding":{"strokeDash":{"field":"sig","type":"nominal","scale":{"domain":["p < 0.05","p > 0.05"],"range":[[1,0],[1.6,1.2]]},"legend":null}}},
{"data":{"values":[{}]},"mark":{"type":"text","align":"left","baseline":"middle","fontSize":9,"color":"#333"},"encoding":{"x":{"datum":2006.2},"y":{"datum":1.39},"text":{"value":"(g)"}}}]},
{"width":246,"height":60.2,"encoding":{"x":{"field":"t","type":"quantitative","scale":{"domain":[2006,2018],"nice":false,"zero":false},"axis":{"values":[2007,2008,2009,2010,2011,2012,2013,2014,2015,2016,2017],"labels":false,"ticks":false,"domain":false,"title":null,"grid":true}},"y":{"field":"v","type":"quantitative","scale":{"domain":[1.3,1.7],"nice":false,"zero":false},"axis":{"title":"n","titleFontStyle":"italic","values":[1.4,1.5,1.6,1.7],"format":".1f"}}},
"layer":[
{"data":{"name":"m"},"transform":[{"fold":["h1","h9"],"as":["key","v"]}],"mark":{"type":"line","color":"black","strokeWidth":1.2,"strokeDash":[1.2,1.4],"clip":true,"invalid":"break-paths-filter-domains"},"encoding":{"detail":[{"field":"key","type":"nominal"},{"field":"s","type":"nominal"}]}},
{"data":{"name":"m"},"transform":[{"fold":["h"],"as":["key","v"]}],"mark":{"type":"line","color":"black","strokeWidth":1.7,"clip":true,"invalid":"break-paths-filter-domains"},"encoding":{"detail":{"field":"s","type":"nominal"}}},
{"data":{"name":"tr"},"transform":[{"filter":"datum.p=='h'"}],"mark":{"type":"line","color":"#ff8c00","strokeWidth":2.2,"clip":true},"encoding":{"strokeDash":{"field":"sig","type":"nominal","scale":{"domain":["p < 0.05","p > 0.05"],"range":[[1,0],[1.6,1.2]]},"legend":null}}},
{"data":{"values":[{}]},"mark":{"type":"text","align":"left","baseline":"middle","fontSize":9,"color":"#333"},"encoding":{"x":{"datum":2006.2},"y":{"datum":1.647},"text":{"value":"(h)"}}}]},
{"width":246,"height":60.2,"encoding":{"x":{"field":"t","type":"quantitative","scale":{"domain":[2006,2018],"nice":false,"zero":false},"axis":{"values":[2006,2007,2008,2009,2010,2011,2012,2013,2014,2015,2016,2017],"labelExpr":"substring(format(datum.value,'d'),2,4)","labelFlush":false,"ticks":false,"domain":false,"title":"Year","grid":true,"labelPadding":2,"titlePadding":0}},"y":{"field":"v","type":"quantitative","scale":{"domain":[0,0.1],"nice":false,"zero":false},"axis":{"title":"k","titleFontStyle":"italic","values":[0,0.02,0.04,0.06,0.08,0.1],"format":".2f"}}},
"layer":[
{"layer":[
{"data":{"name":"m"},"transform":[{"fold":["i1","i9"],"as":["key","v"]}],"mark":{"type":"line","color":"black","strokeWidth":1.2,"clip":true,"invalid":"break-paths-filter-domains"},"encoding":{"detail":{"field":"s","type":"nominal"},"strokeDash":{"field":"key","type":"nominal","scale":{"domain":["i","i1","i9"],"range":[[1,0],[1.2,1.4],[1.2,1.4]]},"legend":{"title":"Data","orient":"top-right","offset":1,"values":["i","i1"],"labelExpr":"datum.value=='i'?'Monthly median':'10ᵗʰ & 90ᵗʰ percentiles'","symbolType":"stroke","symbolStrokeColor":"black","symbolStrokeWidth":1.5,"symbolSize":100,"strokeColor":"#999","fillColor":"white","padding":2,"titleFontSize":7.5,"labelFontSize":7.5,"titleFontWeight":"normal","titleAnchor":"middle","rowPadding":0,"titlePadding":1,"labelColor":"#222","titleColor":"#222","labelLimit":200}}}},
{"data":{"name":"m"},"transform":[{"fold":["i"],"as":["key","v"]}],"mark":{"type":"line","color":"black","strokeWidth":1.7,"clip":true,"invalid":"break-paths-filter-domains"},"encoding":{"detail":{"field":"s","type":"nominal"},"strokeDash":{"field":"key","type":"nominal","scale":{"domain":["i","i1","i9"],"range":[[1,0],[1.2,1.4],[1.2,1.4]]},"legend":{"title":"Data","orient":"top-right","offset":1,"values":["i","i1"],"labelExpr":"datum.value=='i'?'Monthly median':'10ᵗʰ & 90ᵗʰ percentiles'","symbolType":"stroke","symbolStrokeColor":"black","symbolStrokeWidth":1.5,"symbolSize":100,"strokeColor":"#999","fillColor":"white","padding":2,"titleFontSize":7.5,"labelFontSize":7.5,"titleFontWeight":"normal","titleAnchor":"middle","rowPadding":0,"titlePadding":1,"labelColor":"#222","titleColor":"#222","labelLimit":200}}}}]},
{"data":{"name":"tr"},"transform":[{"filter":"datum.p=='i'"}],"mark":{"type":"line","color":"#ff8c00","strokeWidth":2.2,"clip":true},"encoding":{"strokeDash":{"field":"sig","type":"nominal","scale":{"domain":["p < 0.05","p > 0.05"],"range":[[1,0],[1.6,1.2]]},"legend":{"title":"Trend","orient":"none","legendX":10,"legendY":0.5,"symbolType":"stroke","symbolStrokeColor":"#ff8c00","symbolStrokeWidth":2,"symbolSize":100,"strokeColor":"#999","fillColor":"white","padding":2,"titleFontSize":7.5,"labelFontSize":7.5,"titleFontWeight":"normal","titleAnchor":"middle","rowPadding":0,"titlePadding":1,"labelColor":"#222","titleColor":"#222"}}}},
{"data":{"values":[{}]},"mark":{"type":"text","align":"left","baseline":"middle","fontSize":9,"color":"#333"},"encoding":{"x":{"datum":2006.2},"y":{"datum":0.0867},"text":{"value":"(i)"}}}],
"resolve":{"scale":{"strokeDash":"independent"},"legend":{"strokeDash":"independent"}}}
],
"resolve":{"scale":{"strokeDash":"independent"},"legend":{"strokeDash":"independent"}},
"config":{"font":"Liberation Sans","view":{"stroke":"#aaaaaa","strokeWidth":1},"axis":{"labelFontSize":9,"labelColor":"#555","titleFontSize":10,"titleFontWeight":"normal","titleColor":"#555","gridColor":"#e3e3e3","gridWidth":1,"domain":false},"axisY":{"ticks":false,"labelPadding":3,"titlePadding":3,"grid":false}}}
